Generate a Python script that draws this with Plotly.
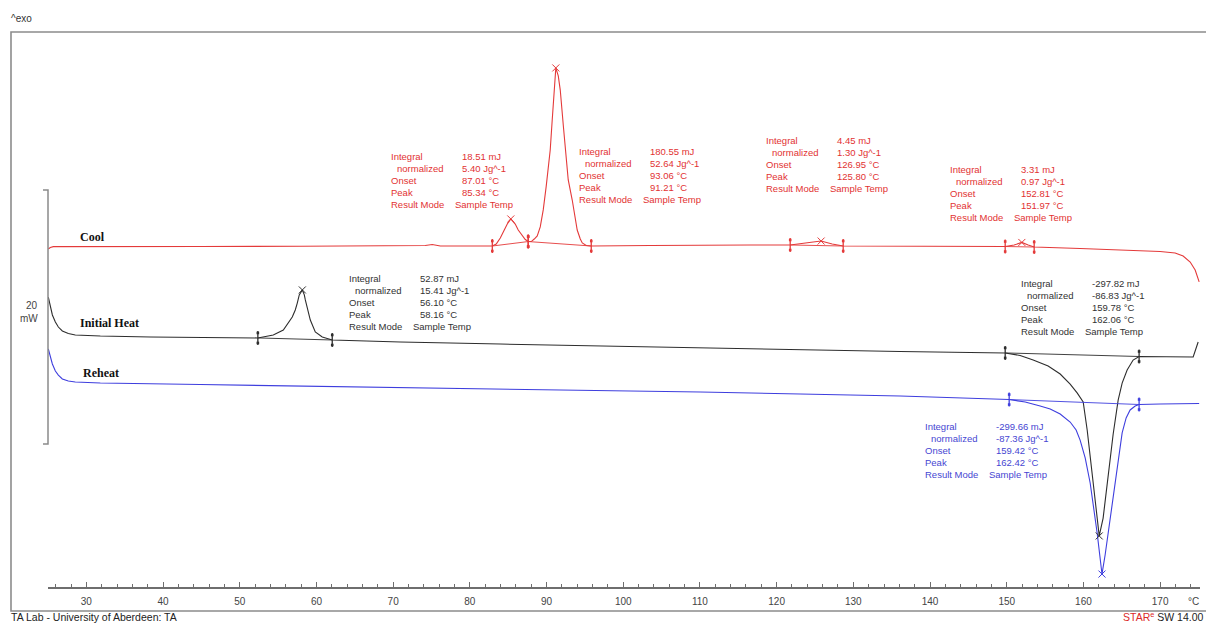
import numpy as np
import plotly.graph_objects as go

# ---------------------------------------------------------------------------
# DSC traces: sample temperature (°C) vs. heat flow (mW, curves stacked)
# ---------------------------------------------------------------------------
cool_T = [25.04, 25.30, 25.69, 29.21, 44.86, 57.90, 70.93, 74.19, 75.10, 76.15,
          81.36, 82.93, 83.44, 83.97, 84.49, 84.88, 85.34, 85.92, 86.31, 86.83,
          87.23, 87.61, 88.01, 88.40, 88.79, 89.18, 89.57, 89.96, 90.48, 90.74,
          91.01, 91.21, 91.53, 91.79, 92.18, 92.44, 92.83, 93.35, 93.74, 94.00,
          94.40, 94.66, 95.18, 95.83, 103.52, 110.04, 116.56, 121.77, 123.73,
          124.77, 125.80, 127.24, 128.68, 136.11, 142.62, 149.80, 150.97, 151.97,
          152.80, 153.58, 159.57, 164.79, 170.00, 171.96, 173.00, 173.92, 174.57,
          175.09]
cool_mW = [26.61, 26.73, 26.80, 26.81, 26.81, 26.83, 26.85, 26.89, 26.97, 26.85,
           26.85, 26.85, 27.01, 27.48, 28.11, 28.58, 28.98, 28.58, 28.11, 27.64,
           27.36, 27.20, 27.20, 27.40, 27.64, 28.35, 29.69, 31.57, 34.41, 36.77,
           39.13, 40.87, 40.24, 39.13, 36.38, 34.41, 32.05, 30.47, 29.06, 28.11,
           27.40, 27.09, 26.89, 26.85, 26.89, 26.93, 26.93, 26.93, 27.05,
           27.17, 27.24, 27.01, 26.85, 26.85, 26.85, 26.81, 26.93, 27.13,
           26.93, 26.77, 26.65, 26.54, 26.42, 26.30, 26.06, 25.59, 24.96,
           24.02]

heat_T = [25.04, 25.30, 25.57, 25.96, 26.35, 26.87, 27.65, 28.56, 31.82, 38.34,
          44.86, 52.36, 54.37, 55.68, 56.85, 57.24, 57.50, 57.76, 58.16, 58.42,
          58.55, 59.20, 59.85, 60.76, 62.06, 70.93, 83.97, 97.00, 110.04, 123.07,
          136.11, 149.80, 151.75, 153.45, 155.40, 156.97, 158.27, 159.18, 159.97,
          160.49, 161.27, 162.06, 162.57, 163.22, 163.88, 164.53, 165.05, 165.70,
          166.48, 167.26, 170.00, 174.31, 174.96]
heat_mW = [22.83, 22.13, 21.42, 20.87, 20.47, 20.16, 19.96, 19.84, 19.76, 19.69,
           19.65, 19.61, 19.84, 20.24, 21.26, 21.81, 22.36, 23.00, 23.39, 23.00,
           22.60, 21.02, 20.08, 19.69, 19.45, 19.29, 19.13, 18.98, 18.82, 18.66,
           18.54, 18.43, 18.23, 17.87, 17.40, 16.77, 15.98, 15.28, 14.57,
           12.36, 8.27, 4.02, 5.43, 8.74, 12.05, 14.72, 16.06, 17.09,
           17.87, 18.15, 18.13, 18.11, 19.29]

reheat_T = [25.04, 25.30, 25.57, 25.96, 26.35, 26.87, 27.65, 28.56, 31.82, 44.86,
            57.90, 70.93, 83.97, 97.00, 110.04, 123.07, 136.11, 150.32, 152.41,
            154.36, 155.67, 156.97, 158.27, 159.05, 159.57, 160.23, 160.88, 161.79,
            162.42, 162.83, 163.22, 164.14, 165.05, 165.57, 166.09, 166.75, 167.26,
            170.00, 175.09]
reheat_mW = [18.74, 18.11, 17.56, 17.01, 16.69, 16.38, 16.22, 16.14, 16.06, 15.94,
             15.83, 15.71, 15.59, 15.47, 15.35, 15.20, 15.04, 14.76, 14.57,
             14.25, 14.02, 13.62, 12.99, 12.36, 11.57, 10.16, 8.19, 4.25,
             1.02, 2.52, 4.25, 8.19, 12.13, 13.31, 13.94, 14.25, 14.37,
             14.41, 14.45]

curve_names = ["Cool", "Initial Heat", "Reheat"]

# ---------------------------------------------------------------------------
# Peak evaluations
# ---------------------------------------------------------------------------
result_curve = ["Cool", "Cool", "Cool", "Cool", "Initial Heat", "Initial Heat", "Reheat"]
result_integral_mJ = [18.51, 180.55, 4.45, 3.31, 52.87, -297.82, -299.66]
result_normalized_Jg = [5.40, 52.64, 1.30, 0.97, 15.41, -86.83, -87.36]
result_onset_C = [87.01, 93.06, 126.95, 152.81, 56.10, 159.78, 159.42]
result_peak_C = [85.34, 91.21, 125.80, 151.97, 58.16, 162.06, 162.42]
result_limit_left_C = [82.93, 87.61, 121.77, 149.80, 52.36, 149.80, 150.32]
result_limit_right_C = [87.61, 95.83, 128.68, 153.58, 62.06, 167.26, 167.26]

x_tick_values = list(range(30, 171, 10))
scale_bar_mW = 20
scale_bar_base_mW = 11.26

# ---------------------------------------------------------------------------
# Styling
# ---------------------------------------------------------------------------
W, H = 1206, 623
ML, MR, MT, MB = 48, 6, 32, 36
X_RANGE = [25, 175.2]
PX_PER_MW = 12.7
Y_RANGE = [0, (H - MT - MB) / PX_PER_MW]

COLORS = {"Cool": "rgb(228,58,58)", "Initial Heat": "rgb(45,45,45)", "Reheat": "rgb(62,62,222)"}
TEXT_COLORS = {"Cool": "rgb(226,50,50)", "Initial Heat": "rgb(50,50,50)", "Reheat": "rgb(70,70,210)"}
SANS = "Liberation Sans, Arial, sans-serif"
SERIF = "Liberation Serif, Times New Roman, serif"

# text block anchors (°C, mW) for each evaluation
block_pos = [(69.76, 33.88), (94.26, 34.28), (118.64, 35.14), (142.63, 32.89),
             (64.19, 24.31), (151.88, 23.91), (139.37, 12.62)]
# curve name anchors (°C, mW)
name_pos = {"Cool": (28.95, 27.54), "Initial Heat": (28.91, 20.81), "Reheat": (29.31, 16.87)}


def paper_x(px):
    return (px - ML) / (W - ML - MR)


def paper_y(py):
    return (H - MB - py) / (H - MT - MB)


curves = {
    "Cool": (cool_T, cool_mW),
    "Initial Heat": (heat_T, heat_mW),
    "Reheat": (reheat_T, reheat_mW),
}

fig = go.Figure()

for name in curve_names:
    t, q = curves[name]
    fig.add_trace(go.Scatter(x=t, y=q, mode="lines", name=name,
                             line=dict(color=COLORS[name], width=1.1),
                             hoverinfo="skip"))

# integration baselines, limit brackets and peak marks
cap = 5 / PX_PER_MW  # half height of a limit bracket
for i in range(len(result_peak_C)):
    name = result_curve[i]
    t, q = curves[name]
    col = COLORS[name]
    lx, rx = result_limit_left_C[i], result_limit_right_C[i]
    ly, ry = float(np.interp(lx, t, q)), float(np.interp(rx, t, q))
    fig.add_trace(go.Scatter(x=[lx, rx], y=[ly, ry], mode="lines",
                             line=dict(color=col, width=0.9), hoverinfo="skip"))
    fig.add_trace(go.Scatter(x=[lx, rx], y=[ly, ry], mode="markers",
                             marker=dict(symbol="line-ns", size=10,
                                         line=dict(color=col, width=1.3)),
                             hoverinfo="skip"))
    fig.add_trace(go.Scatter(x=[lx, lx, rx, rx],
                             y=[ly + cap, ly - cap, ry + cap, ry - cap],
                             mode="markers",
                             marker=dict(symbol="square", size=2.6, color=col,
                                         line=dict(width=0)),
                             hoverinfo="skip"))
    px_ = result_peak_C[i]
    py_ = float(np.interp(px_, t, q))
    fig.add_trace(go.Scatter(x=[px_], y=[py_], mode="markers",
                             marker=dict(symbol="x-thin", size=7,
                                         line=dict(color=col, width=1)),
                             hoverinfo="skip"))

# result text blocks
labels = ["Integral", "normalized", "Onset", "Peak", "Result Mode"]
for i in range(len(result_peak_C)):
    name = result_curve[i]
    col = TEXT_COLORS[name]
    bx, by = block_pos[i]
    values = [f"{result_integral_mJ[i]:.2f} mJ",
              f"{result_normalized_Jg[i]:.2f} Jg^-1",
              f"{result_onset_C[i]:.2f} °C",
              f"{result_peak_C[i]:.2f} °C",
              "Sample Temp"]
    for j, (lab, val) in enumerate(zip(labels, values)):
        common = dict(x=bx, y=by, xref="x", yref="y", xanchor="left",
                      yanchor="middle", showarrow=False, yshift=-12 * j,
                      font=dict(family=SANS, size=9.5, color=col))
        fig.add_annotation(text=lab, xshift=(6 if j == 1 else 0) - 2, **common)
        fig.add_annotation(text=val, xshift=(64 if j == 4 else 71) - 2, **common)

# curve names
for name in curve_names:
    nx, ny = name_pos[name]
    fig.add_annotation(x=nx, y=ny, xref="x", yref="y", text=f"<b>{name}</b>",
                       xanchor="left", yanchor="middle", showarrow=False,
                       font=dict(family=SERIF, size=12, color="#111111"))

# heat-flow scale bar (20 mW)
tick = 5 / (W - ML - MR)
y_lo = scale_bar_base_mW
y_hi = scale_bar_base_mW + scale_bar_mW
fig.add_shape(type="path", xref="paper", yref="y",
              path=f"M {-tick},{y_hi} L 0,{y_hi} L 0,{y_lo} L {-tick},{y_lo}",
              line=dict(color="#8a8a8a", width=1.5))
fig.add_annotation(x=paper_x(40), y=paper_y(305), xref="paper", yref="paper",
                   text=str(scale_bar_mW), xanchor="right", yanchor="middle",
                   showarrow=False, font=dict(family=SANS, size=10, color="#444444"))
fig.add_annotation(x=paper_x(40), y=paper_y(318), xref="paper", yref="paper",
                   text="mW", xanchor="right", yanchor="middle",
                   showarrow=False, font=dict(family=SANS, size=10, color="#444444"))

# outer frame
fig.add_shape(type="rect", xref="paper", yref="paper",
              x0=paper_x(11), x1=paper_x(1212), y0=paper_y(611), y1=paper_y(32),
              line=dict(color="#8c8c8c", width=1.6), fillcolor="rgba(0,0,0,0)",
              layer="below")

# header / footer texts
fig.add_annotation(x=paper_x(9), y=paper_y(18), xref="paper", yref="paper",
                   text="^exo", xanchor="left", yanchor="middle", showarrow=False,
                   font=dict(family=SANS, size=10, color="#333333"))
fig.add_annotation(x=paper_x(9), y=paper_y(617), xref="paper", yref="paper",
                   text="TA Lab - University of Aberdeen: TA", xanchor="left",
                   yanchor="middle", showarrow=False,
                   font=dict(family=SANS, size=10.5, color="#222222"))
fig.add_annotation(x=paper_x(1121), y=paper_y(617), xref="paper", yref="paper",
                   text='<span style="color:rgb(220,40,40)">STAR<sup>e</sup></span> SW 14.00',
                   xanchor="left", yanchor="middle", showarrow=False,
                   font=dict(family=SANS, size=10.5, color="#222222"))
fig.add_annotation(x=174.29, y=0, xref="x", yref="paper", text="°C",
                   xanchor="center", yanchor="middle", yshift=-14, showarrow=False,
                   font=dict(family=SANS, size=10, color="#444444"))

fig.update_layout(
    width=W, height=H,
    margin=dict(l=ML, r=MR, t=MT, b=MB, autoexpand=False),
    paper_bgcolor="white", plot_bgcolor="white",
    showlegend=False,
    xaxis=dict(range=X_RANGE, tickvals=x_tick_values, showline=True,
               linecolor="#6e6e6e", linewidth=1.5, ticks="inside", ticklen=5,
               tickwidth=1, tickcolor="#6e6e6e", showgrid=False, zeroline=False,
               ticklabelstandoff=4,
               tickfont=dict(family=SANS, size=10, color="#444444"),
               minor=dict(dtick=2, tick0=30, ticks="inside", ticklen=3,
                          tickwidth=1, tickcolor="#6e6e6e", showgrid=False),
               fixedrange=True),
    yaxis=dict(range=Y_RANGE, visible=False, fixedrange=True),
)

fig.write_html("out.html")
